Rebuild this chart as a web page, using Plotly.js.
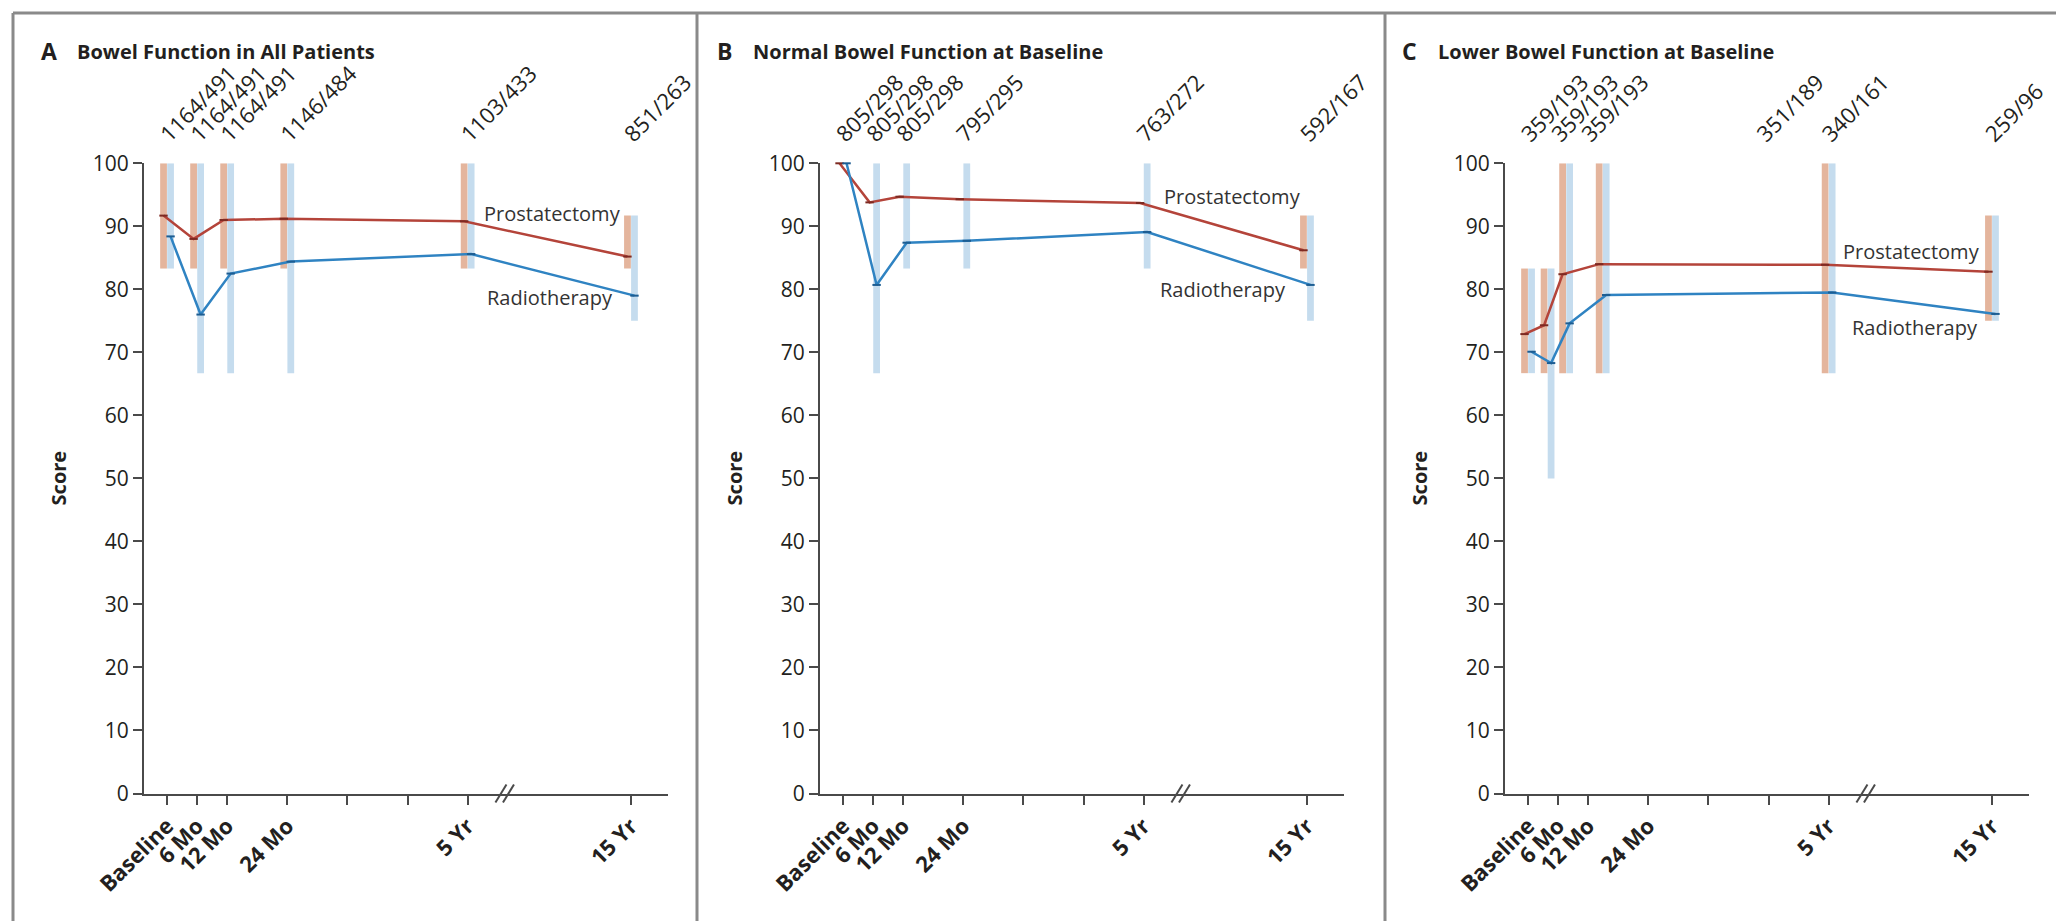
<!DOCTYPE html>
<html><head><meta charset="utf-8">
<script src="https://cdn.plot.ly/plotly-3.0.1.min.js"></script>
<style>html,body{margin:0;padding:0;background:#fff}#chart{width:2056px;height:921px}</style>
</head><body><div id="chart"></div>
<script>
// ---------- data ----------
const timeLabels = ['Baseline', '6 Mo', '12 Mo', '24 Mo', '5 Yr', '15 Yr'];
const timeMonths = [0, 6, 12, 24, 60, 180];
const panelLetters = ['A', 'B', 'C'];
const panelTitles = ['Bowel Function in All Patients', 'Normal Bowel Function at Baseline', 'Lower Bowel Function at Baseline'];

// Panel A
const countsA = ['1164/491', '1164/491', '1164/491', '1146/484', '1103/433', '851/263'];
const countMonthsA = [0, 6, 12, 24, 60, 180];
const dataMonthsA = [0, 6, 12, 24, 60, 180];
const prostA = [91.7, 88.0, 91.0, 91.2, 90.8, 85.2];
const radioA = [88.4, 76.0, 82.5, 84.4, 85.6, 79.0];
const prostLoA = [83.3, 83.3, 83.3, 83.3, 83.3, 83.3];
const prostHiA = [100, 100, 100, 100, 100, 91.7];
const radioLoA = [83.3, 66.7, 66.7, 66.7, 83.3, 75];
const radioHiA = [100, 100, 100, 100, 100, 91.7];

// Panel B
const countsB = ['805/298', '805/298', '805/298', '795/295', '763/272', '592/167'];
const countMonthsB = [0, 6, 12, 24, 60, 180];
const dataMonthsB = [0, 6, 12, 24, 60, 180];
const prostB = [100, 93.8, 94.7, 94.3, 93.7, 86.2];
const radioB = [100, 80.7, 87.4, 87.7, 89.1, 80.7];
const prostLoB = [100, 100, 100, 100, 100, 83.3];
const prostHiB = [100, 100, 100, 100, 100, 91.7];
const radioLoB = [100, 66.7, 83.3, 83.3, 83.3, 75];
const radioHiB = [100, 100, 100, 100, 100, 91.7];

// Panel C (points drawn where the figure draws them)
const countsC = ['359/193', '359/193', '359/193', '351/189', '340/161', '259/96'];
const countMonthsC = [0, 6, 12, 47, 60, 180];
const dataMonthsC = [0, 3.9, 7.6, 14.9, 60, 180];
const prostC = [72.9, 74.3, 82.4, 84.0, 83.9, 82.8];
const radioC = [70.1, 68.3, 74.6, 79.1, 79.5, 76.1];
const prostLoC = [66.7, 66.7, 66.7, 66.7, 66.7, 75];
const prostHiC = [83.3, 83.3, 100, 100, 100, 91.7];
const radioLoC = [66.7, 50, 66.7, 66.7, 66.7, 75];
const radioHiC = [83.3, 83.3, 100, 100, 100, 91.7];

// series label anchors (months, score)
const labelProst = [[76.9, 92.1], [77.7, 94.7], [76.6, 86.0]];
const labelRadio = [[76.5, 78.7], [75.9, 79.9], [77.2, 73.9]];

const yTicks = [0, 10, 20, 30, 40, 50, 60, 70, 80, 90, 100];
const xTickMonths = [0, 6, 12, 24, 36, 48, 60, 180];
const xTickText = ['Baseline', '6 Mo', '12 Mo', '24 Mo', '', '', '5 Yr', '15 Yr'];

// ---------- styling / geometry ----------
const W = 2056, H = 921;
const FONT = '"Open Sans", Lato, sans-serif';
const TXT = '#231f20';
const AX = '#4a4a4a';
const RED = '#b4443a', BLUE = '#2f83c2';
const ORANGE_BAND = '#e4b59d', BLUE_BAND = '#c5dcee';
const yTopPx = 163.3, yBotPx = 793.5;
const xMin = -4.6, xMax = 100, pxPerMonth = 5.01;
const axisLeftPx = [144, 820, 1505];
const POS15 = 92.6, BREAK_AT = 67.4;
const DODGE = 0.7, BAR_W = 1.35;
function axPos(m) { return m <= 60 ? m : POS15; }
const px2x = p => p / W, px2y = p => 1 - p / H;
const yDom = [px2y(yBotPx), px2y(yTopPx)];

const panels = [
  {counts: countsA, cm: countMonthsA, dm: dataMonthsA, pr: prostA, ra: radioA, pl: prostLoA, ph: prostHiA, rl: radioLoA, rh: radioHiA},
  {counts: countsB, cm: countMonthsB, dm: dataMonthsB, pr: prostB, ra: radioB, pl: prostLoB, ph: prostHiB, rl: radioLoB, rh: radioHiB},
  {counts: countsC, cm: countMonthsC, dm: dataMonthsC, pr: prostC, ra: radioC, pl: prostLoC, ph: prostHiC, rl: radioLoC, rh: radioHiC}
];

const traces = [];
const layout = {
  width: W, height: H, margin: {l: 0, r: 0, t: 0, b: 0},
  paper_bgcolor: '#fff', plot_bgcolor: '#fff', showlegend: false,
  barmode: 'overlay', font: {family: FONT, color: TXT, size: 20},
  shapes: [], annotations: []
};

panels.forEach((P, i) => {
  const xb = 'x' + (i === 0 ? '' : (2 * i + 1));
  const xt = 'x' + (2 * i + 2);
  const ya = 'y' + (i === 0 ? '' : (i + 1));
  const x0px = axisLeftPx[i];
  const x1px = x0px + (xMax - xMin) * pxPerMonth;
  const dom = [px2x(x0px), px2x(x1px)];
  const pos = P.dm.map(axPos);

  traces.push({type: 'bar', x: pos.map(v => v - DODGE), base: P.pl, y: P.ph.map((h, k) => h - P.pl[k]),
    width: BAR_W, marker: {color: ORANGE_BAND, line: {width: 0}}, xaxis: xb, yaxis: ya, hoverinfo: 'skip'});
  traces.push({type: 'bar', x: pos.map(v => v + DODGE), base: P.rl, y: P.rh.map((h, k) => h - P.rl[k]),
    width: BAR_W, marker: {color: BLUE_BAND, line: {width: 0}}, xaxis: xb, yaxis: ya, hoverinfo: 'skip'});
  traces.push({type: 'scatter', mode: 'lines+markers', x: pos.map(v => v - DODGE), y: P.pr,
    line: {color: RED, width: 2.5}, marker: {symbol: 'line-ew', size: 6, line: {color: '#7d2a22', width: 2}},
    xaxis: xb, yaxis: ya, cliponaxis: false});
  traces.push({type: 'scatter', mode: 'lines+markers', x: pos.map(v => v + DODGE), y: P.ra,
    line: {color: BLUE, width: 2.5}, marker: {symbol: 'line-ew', size: 6, line: {color: '#1d5d92', width: 2}},
    xaxis: xb, yaxis: ya, cliponaxis: false});
  // invisible carrier so the top (count) axis is drawn
  traces.push({type: 'scatter', mode: 'markers', x: P.cm.map(axPos), y: P.pr,
    marker: {opacity: 0, size: 1}, xaxis: xt, yaxis: ya, hoverinfo: 'skip'});

  const kb = 'xaxis' + (i === 0 ? '' : (2 * i + 1));
  const kt = 'xaxis' + (2 * i + 2);
  const ky = 'yaxis' + (i === 0 ? '' : (i + 1));
  layout[kb] = {domain: dom, range: [xMin, xMax], anchor: ya, side: 'bottom',
    tickmode: 'array', tickvals: xTickMonths.map(axPos), ticktext: xTickText,
    tickangle: -45, ticks: 'outside', ticklen: 9, tickwidth: 2, tickcolor: AX,
    showline: true, linecolor: AX, linewidth: 2, showgrid: false, zeroline: false,
    tickfont: {family: FONT, size: 22, weight: 'bold', color: TXT}, fixedrange: true};
  layout[kt] = {overlaying: xb, range: [xMin, xMax], anchor: ya, side: 'top',
    tickmode: 'array', tickvals: P.cm.map(axPos), ticktext: P.counts,
    tickangle: -45, ticks: 'outside', ticklen: 7, tickcolor: 'rgba(0,0,0,0)', ticklabelshift: -5,
    showline: false, showgrid: false, zeroline: false,
    tickfont: {family: FONT, size: 22, color: TXT}, fixedrange: true};
  layout[ky] = {domain: yDom, range: [0, 100], anchor: xb,
    tickmode: 'array', tickvals: yTicks, ticks: 'outside', ticklen: 9, tickwidth: 2, tickcolor: AX,
    showline: true, linecolor: AX, linewidth: 2, showgrid: false, zeroline: false,
    tickfont: {family: FONT, size: 21, color: TXT}, fixedrange: true};

  // axis break marks
  const yb = px2y(yBotPx);
  [-0.75, 0.75].forEach(o => {
    layout.shapes.push({type: 'line', xref: xb, yref: 'paper',
      x0: BREAK_AT + o - 1.1, x1: BREAK_AT + o + 1.1, y0: yb - 9 / H, y1: yb + 9 / H,
      line: {color: AX, width: 2}});
  });

  // titles
  layout.annotations.push({xref: 'paper', yref: 'paper', x: px2x(x0px - 105), y: px2y(51), xanchor: 'left', yanchor: 'middle',
    text: '<b>' + panelLetters[i] + '</b>', showarrow: false, font: {family: FONT, size: 23, color: TXT}});
  layout.annotations.push({xref: 'paper', yref: 'paper', x: px2x(x0px - 69), y: px2y(51), xanchor: 'left', yanchor: 'middle',
    text: '<b>' + panelTitles[i] + '</b>', showarrow: false, font: {family: FONT, size: 20, color: TXT}});
  layout.annotations.push({xref: 'paper', yref: 'paper', x: px2x(x0px - 86), y: px2y((yTopPx + yBotPx) / 2),
    xanchor: 'center', yanchor: 'middle', textangle: -90,
    text: '<b>Score</b>', showarrow: false, font: {family: FONT, size: 20, color: TXT}});
  layout.annotations.push({xref: xb, yref: ya, x: labelProst[i][0], y: labelProst[i][1], text: 'Prostatectomy',
    showarrow: false, font: {family: FONT, size: 20, color: '#333'}});
  layout.annotations.push({xref: xb, yref: ya, x: labelRadio[i][0], y: labelRadio[i][1], text: 'Radiotherapy',
    showarrow: false, font: {family: FONT, size: 20, color: '#333'}});
});

// frame
const FR = '#8a8a8a';
layout.shapes.push({type: 'line', xref: 'paper', yref: 'paper', x0: px2x(13), x1: 1, y0: px2y(13), y1: px2y(13), line: {color: FR, width: 3}});
[13, 697, 1385].forEach(xp => {
  layout.shapes.push({type: 'line', xref: 'paper', yref: 'paper', x0: px2x(xp), x1: px2x(xp), y0: 0, y1: px2y(13), line: {color: FR, width: 3}});
});

Plotly.newPlot('chart', traces, layout, {displayModeBar: false, staticPlot: true});
</script>
</body></html>
